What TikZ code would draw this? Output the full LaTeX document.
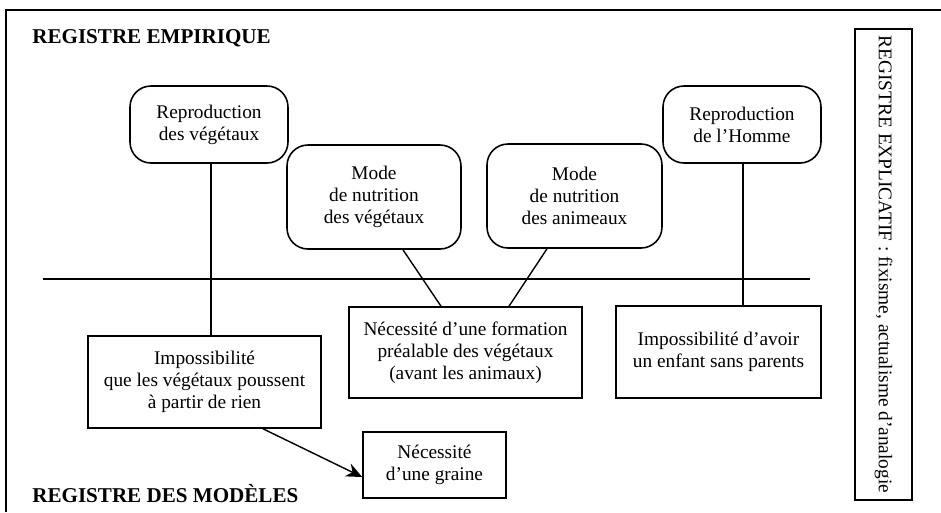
\documentclass[tikz,border=0pt]{standalone}
\usepackage{fontspec}
\setmainfont{Liberation Serif}
\usetikzlibrary{positioning, arrows.meta, calc}
\tikzset{
  regBox/.style={
    draw=black,
    line width=0.9pt,
    rounded corners=0.42cm,
    align=center,
    inner sep=0pt,
    font=\fontsize{11}{12.6}\selectfont
  },
  modelBox/.style={
    draw=black,
    line width=0.9pt,
    align=center,
    inner sep=0pt,
    font=\fontsize{11}{12.6}\selectfont
  },
  regTitle/.style={
    anchor=base west,
    inner sep=0pt,
    font=\fontsize{12}{14}\selectfont\bfseries
  },
  linkLine/.style={
    draw=black,
    line width=0.8pt
  }
}

\begin{document}
\begin{tikzpicture}[x=0.02cm, y=-0.02cm]
  \useasboundingbox (0,0) rectangle (941,512);
  % frame and separation line
  \draw[line width=1.4pt] (6,512) -- (6,10) -- (941,10);
  \draw[linkLine] (43,279) -- (810,279);

  % titles of the two registers
  \node[regTitle] (titleEmp) at (32,43) {REGISTRE EMPIRIQUE};
  \node[regTitle] (titleMod) at (32,502) {REGISTRE DES MODÈLES};

  % empirical register: rounded boxes
  \node[regBox, minimum width=158*0.02cm, minimum height=77*0.02cm] (reproVeg) at (209,124.5) {Reproduction\\des végétaux};
  \node[regBox, minimum width=174*0.02cm, minimum height=104*0.02cm] (modeVeg) at (374,197) {Mode\\de nutrition\\des végétaux};
  \node[regBox, minimum width=175*0.02cm, minimum height=104*0.02cm] (modeAni) at (574.5,196) {Mode\\de nutrition\\des animeaux};
  \node[regBox, minimum width=158*0.02cm, minimum height=77*0.02cm] (reproHom) at (742,124.5) {Reproduction\\de l’Homme};

  % model register: square boxes
  \node[modelBox, minimum width=233*0.02cm, minimum height=92*0.02cm] (impVeg) at (204.5,382) {Impossibilité\\que les végétaux poussent\\à partir de rien};
  \node[modelBox, minimum width=233*0.02cm, minimum height=91*0.02cm] (formVeg) at (465.5,352.5) {Nécessité d’une formation\\préalable des végétaux\\(avant les animaux)};
  \node[modelBox, minimum width=205*0.02cm, minimum height=92*0.02cm] (impEnf) at (718.5,352) {Impossibilité d’avoir\\un enfant sans parents};
  \node[modelBox, minimum width=143*0.02cm, minimum height=66*0.02cm] (graine) at (434.5,465) {Nécessité\\d’une graine};

  % explicative register
  \node[modelBox, rotate=-90, minimum width=471*0.02cm, minimum height=57*0.02cm] (explic) at (883.5,264.5) {REGISTRE EXPLICATIF : fixisme, actualisme d’analogie};

  % links
  \coordinate (vegFoot) at ($(reproVeg.south)+(2,0)$);
  \coordinate (homFoot) at ($(reproHom.south)+(1,0)$);
  \draw[linkLine] (vegFoot) -- (vegFoot |- impVeg.north);
  \draw[linkLine] (homFoot) -- (homFoot |- impEnf.north);
  \draw[linkLine] ($(modeVeg.south)+(29,0)$) -- ($(formVeg.north)+(-24.5,0)$);
  \draw[linkLine] ($(modeAni.south)+(-27.5,0)$) -- ($(formVeg.north)+(43.5,0)$);
  \draw[linkLine, -{Stealth[length=3.2mm, width=2.8mm]}] ($(impVeg.south)+(58.5,0)$) -- ($(graine.west)+(0,12)$);
\end{tikzpicture}
\end{document}
